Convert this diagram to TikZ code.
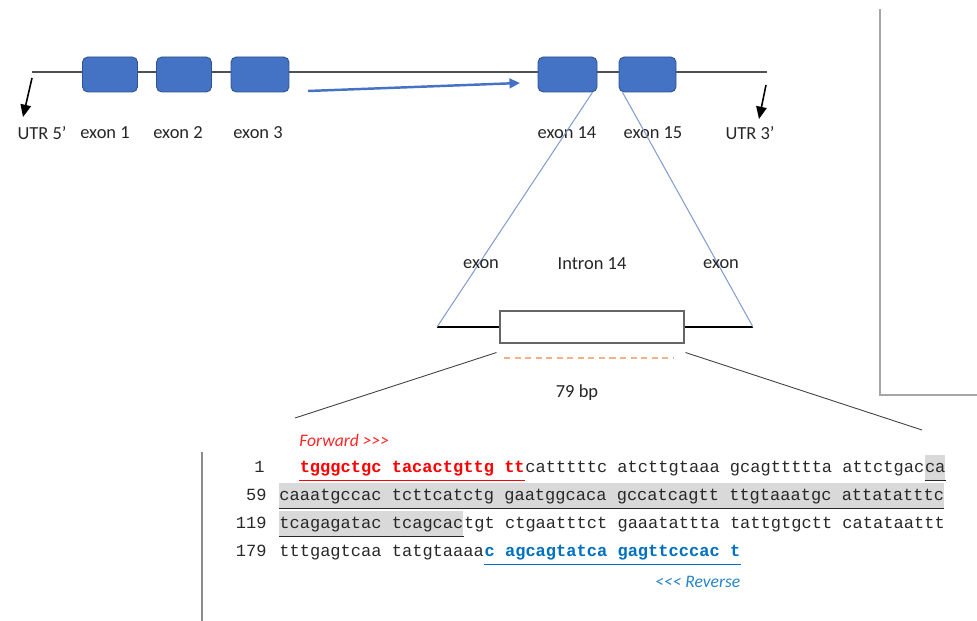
\documentclass[tikz,border=0pt]{standalone}
\usepackage{fontspec}
\setsansfont{Carlito}
\setmonofont{Liberation Mono}
\usepackage{xcolor}
\definecolor{exfill}{RGB}{68,114,196}
\definecolor{exdraw}{RGB}{47,82,143}
\definecolor{linkblue}{RGB}{130,158,208}
\definecolor{genegrey}{RGB}{80,80,80}
\definecolor{framegrey}{RGB}{166,166,166}
\definecolor{hlgrey}{RGB}{217,217,217}
\definecolor{seqtext}{RGB}{40,40,40}
\definecolor{fwdred}{RGB}{255,0,0}
\definecolor{revblue}{RGB}{0,112,192}
\definecolor{dashorange}{RGB}{244,177,131}
\usetikzlibrary{arrows.meta,positioning,calc}

\begin{document}
\begin{tikzpicture}[
  x=0.02cm, y=-0.02cm,
  every node/.style={font=\sffamily\fontsize{10.5}{12}\selectfont, text=black!85},
  exonbox/.style={draw=exdraw,fill=exfill,rounded corners=3pt,minimum width=1.1cm,
                  minimum height=0.7cm,inner sep=0pt,line width=0.5pt},
  seq/.style={font=\ttfamily\fontsize{9.7}{11}\selectfont,text=seqtext,inner sep=0pt,
              text height=0.34cm,text depth=0.16cm},
  hl/.style={seq,fill=hlgrey},
  num/.style={font=\ttfamily\fontsize{9.7}{11}\selectfont,text=seqtext,inner sep=0pt,anchor=base east},
  ul/.style={line width=0.6pt},
]
  \useasboundingbox (0,0) rectangle (977,621);

  % gene with exons
  \coordinate (g5) at (32,72);
  \coordinate (g3) at (767,72);
  \draw[genegrey,line width=0.75pt] (g5) -- (g3);
  \node[exonbox] (ex1) at (110,74.5) {};
  \node[exonbox] (ex2) at (184,74.5) {};
  \node[exonbox,minimum width=1.16cm] (ex3) at (260,74.5) {};
  \node[exonbox,minimum width=1.18cm] (ex14) at (567.5,74.5) {};
  \node[exonbox,minimum width=1.14cm] (ex15) at (647.5,74.5) {};

  % labels under the gene
  \node (utr5) at (42,133) {UTR 5'};
  \node (lex1) at (105,133) {exon 1};
  \node (lex2) at (178,133) {exon 2};
  \node (lex3) at (258,133) {exon 3};
  \node (lex14) at (567,133) {exon 14};
  \node (lex15) at (653,133) {exon 15};
  \node (utr3) at (750,133) {UTR 3'};

  % UTR arrows
  \coordinate (a5) at (32,78);
  \coordinate (b5) at (23,117);
  \coordinate (a3) at (766,85);
  \coordinate (b3) at (759,119);
  \draw[-{Triangle[length=7pt,width=6pt]},line width=0.9pt] (a5) -- (b5);
  \draw[-{Triangle[length=7pt,width=6pt]},line width=0.9pt] (a3) -- (b3);

  % blue arrow towards exon 14
  \coordinate (s1) at (308,91);
  \coordinate (s2) at (520,83);
  \draw[exfill,line width=1.4pt,-{Triangle[length=6pt,width=5.5pt]}] (s1) -- (s2);

  % intron 14 detail
  \node[draw=black!60,fill=white,minimum width=3.68cm,minimum height=0.64cm,inner sep=0pt,
        line width=0.6pt] (intron) at (592,327) {};
  \coordinate (il) at (437,327);
  \coordinate (ir) at (753,327);
  \draw[line width=1.7pt] (il) -- (intron.west);
  \draw[line width=1.7pt] (intron.east) -- (ir);
  \draw[linkblue,line width=0.6pt] ($(ex14.south east)+(-5,0)$) -- (il);
  \draw[linkblue,line width=0.6pt] ($(ex15.south west)+(4,0)$) -- (ir);
  \node (lexl) at (481,264) {exon};
  \node (lint) at (592,264) {Intron 14};
  \node (lexr) at (721,264) {exon};
  \coordinate (d1) at (504,358);
  \coordinate (d2) at (673,358);
  \draw[dashorange,dashed,dash pattern=on 3.5pt off 2.5pt,line width=0.6pt] (d1) -- (d2);
  \node (bp) at (577,393) {79 bp};

  % zoom lines
  \coordinate (zl) at (295,418);
  \coordinate (zr) at (922,430);
  \draw[black!75,line width=0.5pt] ($(intron.south west)+(-3,9)$) -- (zl);
  \draw[black!75,line width=0.5pt] ($(intron.south east)+(1,9)$) -- (zr);

  % frame lines
  \draw[framegrey,line width=0.6pt] (880,9) -- (880,395) -- (977,395);
  \draw[black!45,line width=0.6pt] (202,452) -- (202,621);

  % sequence
  \node[font=\sffamily\itshape\fontsize{10}{12}\selectfont,text=fwdred!85,inner sep=0pt,anchor=base west]
       (fwd) at (299,446) {Forward >{}>{}>};
  % row 1
  \node[num] (n1) at (265,472) {1};
  \node[seq,anchor=base west,text=fwdred,font=\ttfamily\bfseries\fontsize{9.7}{11}\selectfont] (r1a) at (299.4,472) {tgggctgc tacactgttg tt};
  \node[seq,right=0pt of r1a] (r1b) {catttttc atcttgtaaa gcagttttta attctgac};
  \node[hl,right=0pt of r1b] (r1c) {ca};
  \draw[ul,fwdred] (r1a.south west) -- (r1a.south east);
  \draw[ul,seqtext] (r1c.south west) -- (r1c.south east);
  % row 59
  \node[num] (n59) at (267,500) {59};
  \node[hl,anchor=base west] (r59) at (279,500) {caaatgccac tcttcatctg gaatggcaca gccatcagtt ttgtaaatgc attatatttc};
  \draw[ul,seqtext] (r59.south west) -- (r59.south east);
  % row 119
  \node[num] (n119) at (267,528) {119};
  \node[hl,anchor=base west] (r119a) at (279,528) {tcagagatac tcagcac};
  \node[seq,right=0pt of r119a] (r119b) {tgt ctgaatttct gaaatattta tattgtgctt catataattt};
  \draw[ul,seqtext] (r119a.south west) -- (r119a.south east);
  % row 179
  \node[num] (n179) at (267,556) {179};
  \node[seq,anchor=base west] (r179a) at (279,556) {tttgagtcaa tatgtaaaa};
  \node[seq,right=0pt of r179a,text=revblue,font=\ttfamily\bfseries\fontsize{9.7}{11}\selectfont] (r179b) {c agcagtatca gagttcccac t};
  \draw[ul,revblue] (r179b.south west) -- (r179b.south east);
  \node[font=\sffamily\itshape\fontsize{10}{12}\selectfont,text=revblue!85,inner sep=0pt,anchor=base east]
       (rev) at (r179b.east |- 0,587) {<{}<{}< Reverse};
\end{tikzpicture}
\end{document}
